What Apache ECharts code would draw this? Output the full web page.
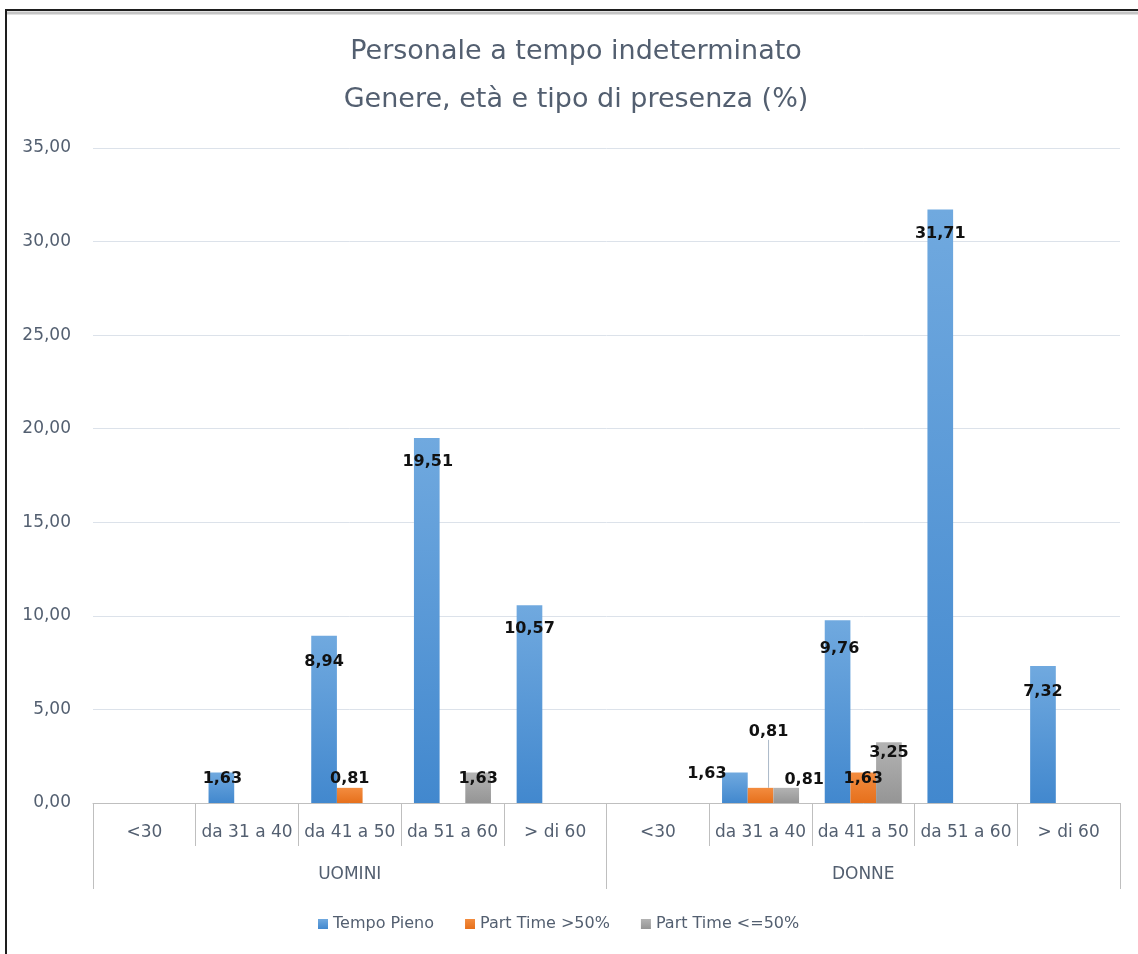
<!DOCTYPE html>
<html>
<head>
<meta charset="utf-8">
<script src="https://cdn.jsdelivr.net/npm/echarts@6/dist/echarts.min.js"></script>
<style>
html,body{margin:0;padding:0;background:#fff;}
#chart{width:1138px;height:954px;}
</style>
</head>
<body>
<div id="chart"></div>
<script>
// ---- data ----
var ageCategories = ['<30', 'da 31 a 40', 'da 41 a 50', 'da 51 a 60', '> di 60',
                     '<30', 'da 31 a 40', 'da 41 a 50', 'da 51 a 60', '> di 60'];
var groupCategories = ['UOMINI', 'DONNE'];
var seriesNames = ['Tempo Pieno', 'Part Time >50%', 'Part Time <=50%'];
var tempoPieno   = [null, 1.63, 8.94, 19.51, 10.57, null, 1.63, 9.76, 31.71, 7.32];
var partTimeOver = [null, null, 0.81, null, null, null, 0.81, 1.63, null, null];
var partTimeUnder= [null, null, null, 1.63, null, null, 0.81, 3.25, null, null];
var yTicks = [0, 5, 10, 15, 20, 25, 30, 35];

// ---- label placement (style, relative to bar top centre) ----
var labelShift = [
  {1:[1,6], 2:[0,26], 3:[1,24], 4:[0,24], 6:[-28,1], 7:[2,28], 8:[0,24], 9:[0,26]},
  {2:[0,-9], 6:[8,-56], 7:[0,6]},
  {3:[0,6], 6:[18,-8], 7:[0,11]}
];
var leaderLines = [{}, {6:true}, {}];

var fills = [
  ['#70a9df', '#4288ce'],
  ['#f38c3f', '#e6701c'],
  ['#b3b3b3', '#959595']
];
var textColor = '#535f70';
var FONT = 'DejaVu Sans';

function fmt(v){ return v.toFixed(2).replace('.', ','); }

function buildSeries(idx, values){
  return {
    name: seriesNames[idx],
    type: 'bar',
    xAxisIndex: 0,
    barGap: '0%',
    barCategoryGap: '25%',
    itemStyle: {
      color: new echarts.graphic.LinearGradient(0, 0, 0, 1, [
        {offset: 0, color: fills[idx][0]},
        {offset: 1, color: fills[idx][1]}
      ])
    },
    label: {
      show: true,
      position: 'top',
      distance: 0,
      verticalAlign: 'middle',
      align: 'center',
      color: '#111',
      fontWeight: 'bold',
      fontSize: 16,
      fontFamily: FONT,
      formatter: function(p){ return fmt(p.value); }
    },
    labelLine: {show: false, lineStyle: {color: '#aab8c8', width: 1}},
    labelLayout: function(p){
      var s = labelShift[idx][p.dataIndex] || [0, 0];
      return {dx: s[0], dy: s[1]};
    },
    emphasis: {disabled: true},
    data: values.map(function(v, i){
      if (v === null) return '-';
      var item = {value: v};
      if (leaderLines[idx][i]) item.labelLine = {show: true, lineStyle: {color: '#aab8c8', width: 1}};
      return item;
    })
  };
}

var chart = echarts.init(document.getElementById('chart'), null, {renderer: 'canvas'});
chart.setOption({
  backgroundColor: '#fff',
  animation: false,
  title: {
    text: 'Personale a tempo indeterminato\nGenere, età e tipo di presenza (%)',
    left: 571,
    textAlign: 'center',
    top: 23,
    textStyle: {
      color: textColor,
      fontSize: 27,
      fontWeight: 'normal',
      fontFamily: FONT,
      lineHeight: 48
    }
  },
  legend: {
    left: 313,
    top: 911,
    itemWidth: 10,
    itemHeight: 10,
    itemGap: 31,
    icon: 'rect',
    data: seriesNames,
    textStyle: {color: textColor, fontSize: 16, fontFamily: FONT}
  },
  grid: {left: 93, right: 18, top: 148, bottom: 151, containLabel: false},
  xAxis: [
    {
      type: 'category',
      data: ageCategories,
      position: 'bottom',
      axisLine: {show: true, lineStyle: {color: '#bfbfbf', width: 1}},
      axisTick: {show: true, length: 43, interval: 0, lineStyle: {color: '#bfbfbf'}},
      axisLabel: {interval: 0, margin: 21, color: textColor, fontSize: 17, fontFamily: FONT},
      splitLine: {show: false}
    },
    {
      type: 'category',
      data: groupCategories,
      position: 'bottom',
      axisLine: {show: false},
      axisTick: {show: true, length: 86, interval: 0, lineStyle: {color: '#bfbfbf'}},
      axisLabel: {interval: 0, margin: 63, color: textColor, fontSize: 17, fontFamily: FONT},
      splitLine: {show: false}
    }
  ],
  yAxis: {
    type: 'value',
    min: yTicks[0],
    max: yTicks[yTicks.length - 1],
    interval: yTicks[1] - yTicks[0],
    axisLine: {show: false},
    axisTick: {show: false},
    axisLabel: {margin: 22, color: textColor, fontSize: 17, fontFamily: FONT,
                formatter: function(v){ return fmt(v); }},
    splitLine: {lineStyle: {color: '#dce2ea', width: 1}}
  },
  graphic: [
    {type: 'line', shape: {x1: 5, y1: 10, x2: 1138, y2: 10}, style: {stroke: '#1e1e1e', lineWidth: 2}},
    {type: 'line', shape: {x1: 7, y1: 13, x2: 1138, y2: 13}, style: {stroke: '#c4c4c4', lineWidth: 3}},
    {type: 'line', shape: {x1: 6, y1: 9, x2: 6, y2: 954}, style: {stroke: '#1e1e1e', lineWidth: 2}}
  ],
  series: [
    buildSeries(0, tempoPieno),
    buildSeries(1, partTimeOver),
    buildSeries(2, partTimeUnder)
  ]
});
</script>
</body>
</html>
